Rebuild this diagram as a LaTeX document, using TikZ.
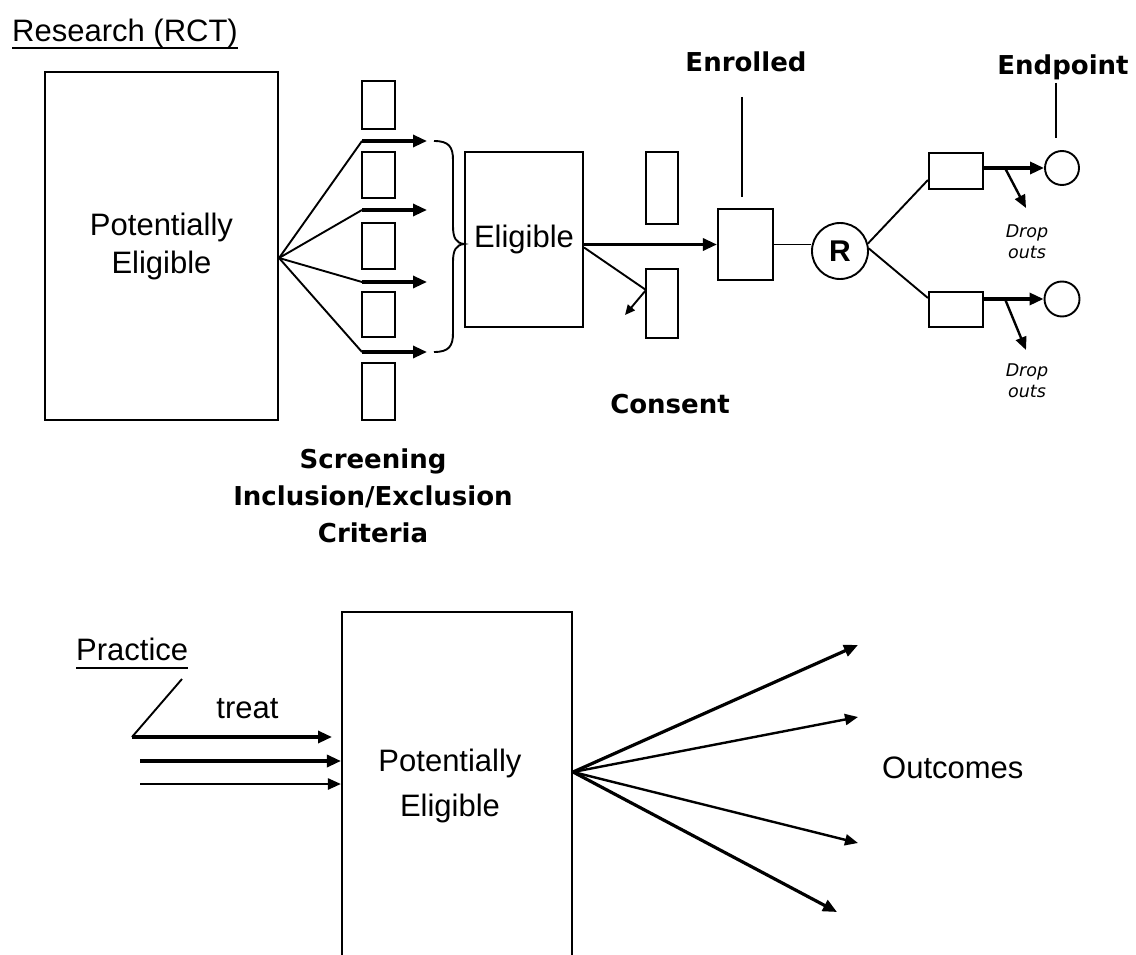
\documentclass[tikz,border=0pt]{standalone}
\usepackage{fontspec}
\setmainfont{Liberation Sans}
\newfontfamily\dvs{DejaVu Sans}
\usetikzlibrary{arrows.meta}
\tikzset{
  box/.style={draw, line width=2.1pt, inner sep=0pt},
  thinln/.style={line width=1.9pt},
  thickarr/.style={line width=3.2pt, -{Triangle[length=14pt,width=12pt]}},
  medarr/.style={line width=2.4pt, -{Triangle[length=13pt,width=11pt]}},
  reg/.style={font=\fontsize{31}{38}\selectfont, inner sep=0pt},
  boldlab/.style={font=\dvs\bfseries\fontsize{26}{37}\selectfont, inner sep=0pt, align=center},
  droplab/.style={font=\dvs\itshape\fontsize{17.5}{21}\selectfont, inner sep=0pt, align=center},
}
\begin{document}
\begin{tikzpicture}[x=1pt,y=-1pt]
\useasboundingbox (0,0) rectangle (1136,955);
\clip (0,0) rectangle (1136,955);

% ---------- Research (RCT) ----------
\node[reg, anchor=base west] (t1) at (12,42) {Research (RCT)};
\draw[line width=1.7pt] ([yshift=-6pt]t1.base west) -- ([yshift=-6pt]t1.base east);

\node[box, reg, align=center, minimum width=233pt, minimum height=348pt] (pe) at (161.5,246) {Potentially\\Eligible};

% screening boxes
\node[box, minimum width=33pt, minimum height=48pt] (s1) at (378.5,105) {};
\node[box, minimum width=33pt, minimum height=46pt] (s2) at (378.5,175) {};
\node[box, minimum width=33pt, minimum height=46pt] (s3) at (378.5,246) {};
\node[box, minimum width=33pt, minimum height=45pt] (s4) at (378.5,314.5) {};
\node[box, minimum width=33pt, minimum height=57pt] (s5) at (378.5,391.5) {};

\coordinate (fp) at ([yshift=-12pt]pe.east);
\foreach \i/\y in {1/141,2/210,3/282,4/352}{
  \coordinate (bk\i) at (362,\y);
  \coordinate (ak\i) at (427,\y);
  \draw[thinln] (fp) -- (bk\i);
  \draw[thickarr] (bk\i) -- (ak\i);
}

% brace
\draw[thinln] (434,141) .. controls (449,141) and (453,147) .. (453,160) -- (453,226)
   .. controls (453,238) and (456,243) .. (464,244)
   .. controls (456,245) and (453,250) .. (453,262) -- (453,333)
   .. controls (453,346) and (449,352) .. (434,352);

% eligible
\node[box, reg, minimum width=118pt, minimum height=175pt] (el) at (524,239.5) {Eligible};

% consent boxes
\node[box, minimum width=32pt, minimum height=72pt] (c1) at (662,188) {};
\node[box, minimum width=32pt, minimum height=69pt] (c2) at (662,303.5) {};

% enrolled
\node[box, minimum width=55pt, minimum height=71pt] (en) at (745.5,244.5) {};
\draw[thickarr] (el.east |- en.west) -- (en.west);

\coordinate (e1) at ([yshift=-8pt]el.east);
\coordinate (cp) at (646,290);
\coordinate (cq) at (625,315);
\draw[thinln] (e1) -- (cp);
\draw[thinln, -{Triangle[length=10pt,width=9pt]}] (cp) -- (cq);

\node[boldlab, anchor=base] (cl) at (670,413) {Consent};

\node[boldlab, anchor=base] (enl) at (746,72) {Enrolled};
\coordinate (el1) at (742,97);
\coordinate (el2) at (742,197);
\draw[thinln] (el1) -- (el2);

% randomisation
\node[draw, circle, line width=1.9pt, minimum size=56pt, inner sep=0pt,
      font=\bfseries\fontsize{30}{30}\selectfont] (R) at (840,251) {R};
\draw[thinln] (en.east) -- (en.east -| R.west);

\node[box, minimum width=54pt, minimum height=36pt] (a1) at (956,171) {};
\node[box, minimum width=54pt, minimum height=35pt] (a2) at (956,309.5) {};
\draw[thinln] (R.15) -- ([yshift=-9pt]a1.west);
\draw[thinln] (R.5) -- ([yshift=11.5pt]a2.west);

\node[draw, circle, line width=1.9pt, minimum size=34pt, inner sep=0pt] (ep1) at (1062,168) {};
\node[draw, circle, line width=1.9pt, minimum size=35pt, inner sep=0pt] (ep2) at (1062,299) {};
\draw[thickarr] (a1.east |- ep1.west) -- (ep1.west);
\draw[thickarr] (a2.east |- ep2.west) -- (ep2.west);

\coordinate (d1s) at (1005,168);
\coordinate (d1e) at (1026,208);
\coordinate (d2s) at (1005,299);
\coordinate (d2e) at (1026,350);
\draw[medarr] (d1s) -- (d1e);
\draw[medarr] (d2s) -- (d2e);
\node[droplab] (do1) at (1027,242) {Drop\\outs};
\node[droplab] (do2) at (1027,381) {Drop\\outs};

\node[boldlab, anchor=base] (epl) at (1063,75) {Endpoint};
\coordinate (ep1a) at (1056,83);
\coordinate (ep1b) at (1056,138);
\draw[thinln] (ep1a) -- (ep1b);

\node[boldlab, anchor=base] (scr) at (373,542) {Screening\\Inclusion/Exclusion\\Criteria};

% ---------- Practice ----------
\node[reg, anchor=base west] (t2) at (76,660) {Practice};
\draw[line width=1.7pt] ([yshift=-8pt]t2.base west) -- ([yshift=-8pt]t2.base east);

\node[box, minimum width=230pt, minimum height=386pt] (pb) at (457,805) {};
\node[align=center, inner sep=0pt, font=\fontsize{31}{45}\selectfont] (pbt) at (450,786) {Potentially\\Eligible};

\coordinate (pr1) at (182,679);
\coordinate (pr2) at (132,737);
\coordinate (tr2) at (332,737);
\draw[thinln] (pr1) -- (pr2);
\draw[thickarr] (pr2) -- (tr2);
\node[reg, anchor=base] (treat) at (247.5,718) {treat};

\coordinate (i2) at (140,761);
\coordinate (i3) at (140,784);
\draw[thickarr] (i2) -- (i2 -| pb.west);
\draw[medarr] (i3) -- (i3 -| pb.west);

\coordinate (fo) at ([yshift=33pt]pb.east);
\coordinate (o1) at (858,645);
\coordinate (o2) at (858,717);
\coordinate (o3) at (858,843);
\coordinate (o4) at (837,912);
\draw[thickarr] (fo) -- (o1);
\draw[medarr] (fo) -- (o2);
\draw[medarr] (fo) -- (o3);
\draw[thickarr] (fo) -- (o4);

\node[reg, anchor=base west] (out) at (882,778) {Outcomes};
\end{tikzpicture}
\end{document}
